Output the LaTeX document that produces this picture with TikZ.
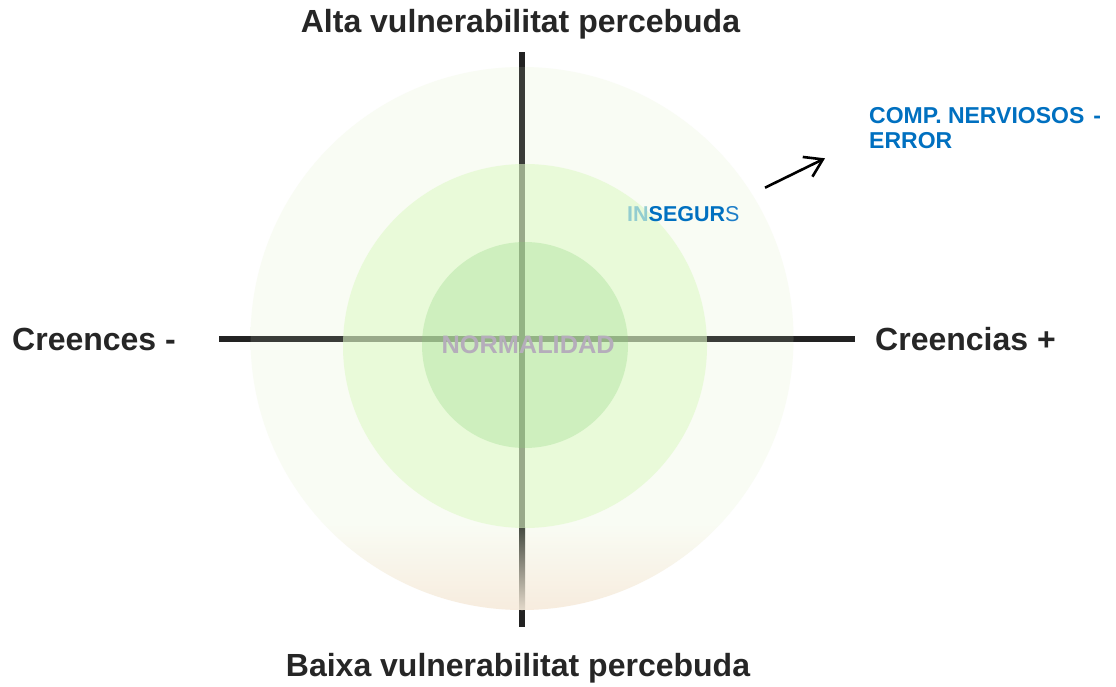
\documentclass[tikz,border=0pt]{standalone}
\usepackage{fontspec}
\setmainfont{Liberation Sans}
\usetikzlibrary{arrows.meta}
\definecolor{pgreen}{RGB}{249,252,244}
\definecolor{pbeige}{RGB}{247,236,222}
\definecolor{midgreen}{RGB}{222,249,198}
\definecolor{ingreen}{RGB}{130,211,115}
\definecolor{axisdark}{RGB}{34,34,34}
\definecolor{axisin}{RGB}{58,60,56}
\definecolor{axistop}{RGB}{70,75,65}
\definecolor{axisfade}{RGB}{228,218,203}
\definecolor{labeldark}{RGB}{38,38,38}
\definecolor{lblue}{RGB}{0,112,192}
\definecolor{lblue2}{RGB}{30,126,200}
\definecolor{lteal}{RGB}{147,205,208}
\definecolor{normgray}{RGB}{181,173,187}
\pgfdeclareverticalshading{outershade}{100bp}{color(0bp)=(pbeige); color(25bp)=(pbeige); color(33bp)=(pgreen); color(100bp)=(pgreen)}
\tikzset{
  axislabel/.style={font=\fontsize{32}{36}\selectfont\bfseries, text=labeldark, inner sep=0pt},
  bluelabel/.style={font=\fontsize{23}{26}\selectfont\bfseries, text=lblue, inner sep=0pt, anchor=base west},
  normlabel/.style={font=\fontsize{25.3}{28}\selectfont\bfseries, text=normgray, inner sep=0pt, anchor=base west},
  arrowline/.style={draw=black, line width=2.6pt, -{Straight Barb[length=17pt, width=22pt, line width=2.6pt]}}
}
\begin{document}
\begin{tikzpicture}[x=1pt,y=-1pt]
\useasboundingbox (0,0) rectangle (1116,687);
\fill[white] (0,0) rectangle (1116,687);
% outer circle
\shade[shading=outershade] (522,338.5) circle[radius=271.5];
% axes
\fill[axisdark] (219,336) rectangle (855,342);
\fill[axisdark] (519,52) rectangle (525,627);
\begin{scope}
  \clip (522,338.5) circle[radius=271.5];
  \fill[axisin] (219,336) rectangle (855,342);
  \fill[axisin] (519,52) rectangle (525,527);
  \shade[top color=axistop, bottom color=axisfade] (519,527) rectangle (525,611);
\end{scope}
% middle and inner circles
\fill[midgreen, fill opacity=0.58] (525,346) circle[radius=182];
\fill[ingreen, fill opacity=0.26] (525,345) circle[radius=103];
% labels
\node[axislabel, anchor=base] (alta) at (520.5,33) {Alta vulnerabilitat percebuda};
\node[axislabel, anchor=base] (baixa) at (518,676) {Baixa vulnerabilitat percebuda};
\node[axislabel, anchor=base west] (cmenys) at (12,350) {Creences -};
\node[axislabel, anchor=base west] (cmes) at (875,350) {Creencias +};
\node[normlabel] (norm) at (441.5,353.3) {NORMALIDAD};
\node[bluelabel, font=\fontsize{21.5}{24}\selectfont\bfseries] (inseg) at (627,221.7) {\textcolor{lteal}{IN}SEGUR\textcolor{lblue2}{\mdseries S}};
\node[bluelabel] (comp1) at (869,123.3) {COMP. NERVIOSOS\hspace{9pt}-};
\node[bluelabel] (comp2) at (869,148.3) {ERROR};
% arrow
\coordinate (arrS) at (765,187.7);
\coordinate (arrE) at (825,158.3);
\draw[arrowline] (arrS) -- (arrE);
\end{tikzpicture}
\end{document}
